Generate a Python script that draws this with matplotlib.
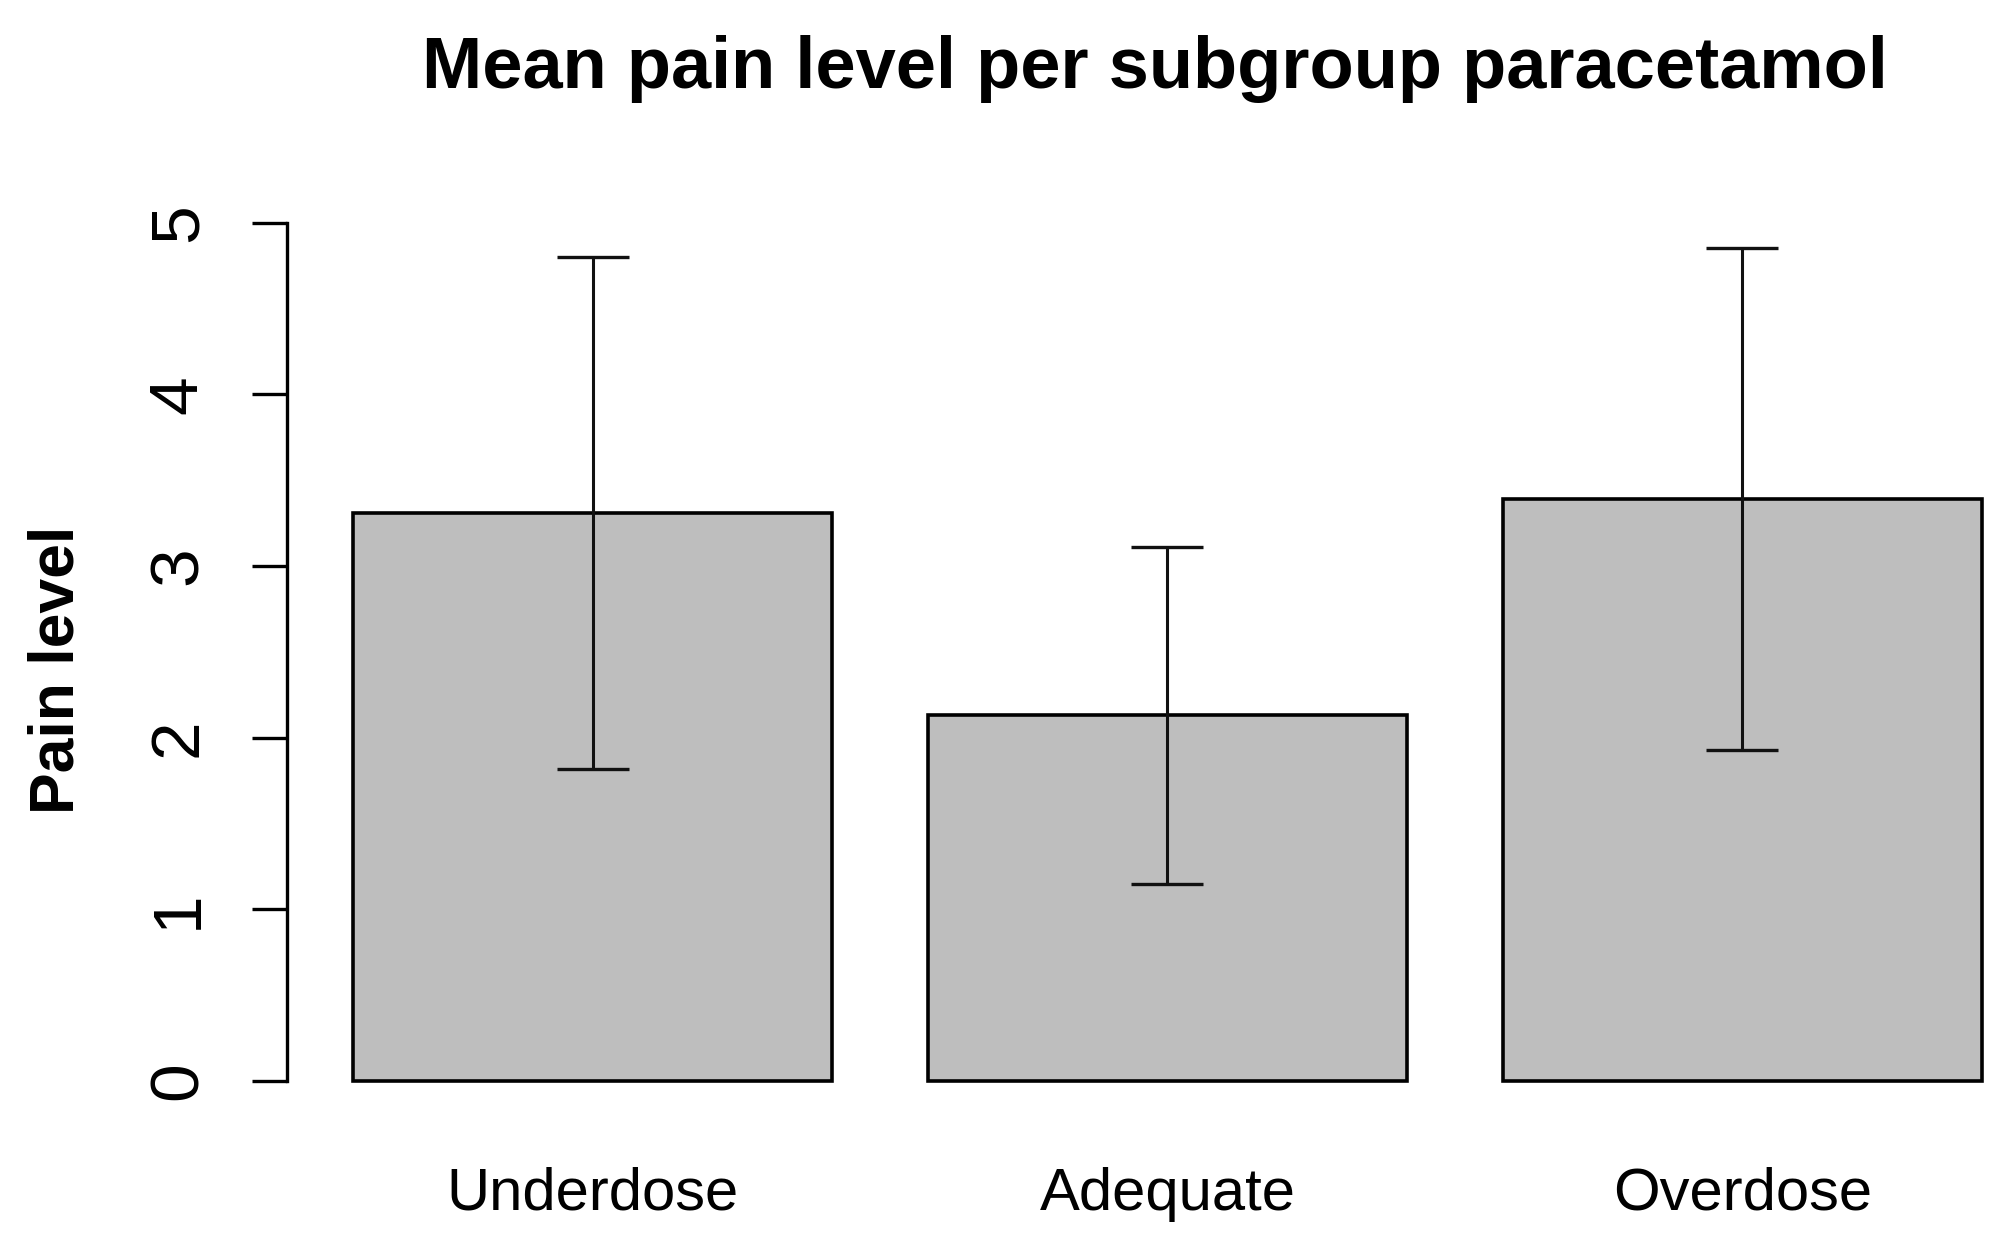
import matplotlib
matplotlib.use("Agg")
from matplotlib import pyplot as plt
import numpy as np

# values
groups = ["Underdose", "Adequate", "Overdose"]
mean_pain = [3.31, 2.13, 3.39]
err_pain = [1.49, 0.98, 1.46]
ticks_y = [0, 1, 2, 3, 4, 5]

plt.rcParams['font.family'] = ['Liberation Sans', 'DejaVu Sans']

fig = plt.figure(figsize=(20, 12.55), dpi=100)
ax = fig.add_axes([0.1435, 0.1113, 0.8565, 0.7386])

# R style barplot: width 1, space 0.2
pos = 0.2 + np.arange(len(groups)) * 1.2 + 0.5
ax.bar(pos, mean_pain, width=1.0, color="#bebebe", edgecolor="black", linewidth=2.6)
ax.errorbar(pos, mean_pain, yerr=err_pain, fmt="none", ecolor="#111111",
            elinewidth=2.2, capsize=26, capthick=2.4)

ax.set_xlim(0.062, 3.638)
ax.set_ylim(-0.2, 5.2)
for s in ["top", "right", "bottom"]:
    ax.spines[s].set_visible(False)
ax.spines["left"].set_bounds(0, 5)
ax.spines["left"].set_linewidth(2.4)
ax.set_xticks([])
ax.set_yticks(ticks_y)
ax.set_yticklabels([str(t) for t in ticks_y], rotation=90, va="center", fontsize=50)
ax.tick_params(axis="y", length=25, width=2.4, pad=30)

for p, g in zip(pos, groups):
    ax.text(p, -0.102, g, transform=ax.get_xaxis_transform(), ha="center",
            va="baseline", fontsize=43)

fig.text(0.5775, 1 - 88 / 1255, "Mean pain level per subgroup paracetamol",
         ha="center", va="baseline", fontsize=52, fontweight="bold")
fig.text(0.0285, 1 - 670 / 1255, "Pain level", rotation=90, ha="center",
         va="center", fontsize=45, fontweight="bold")

fig.savefig("out.png", dpi=100)
